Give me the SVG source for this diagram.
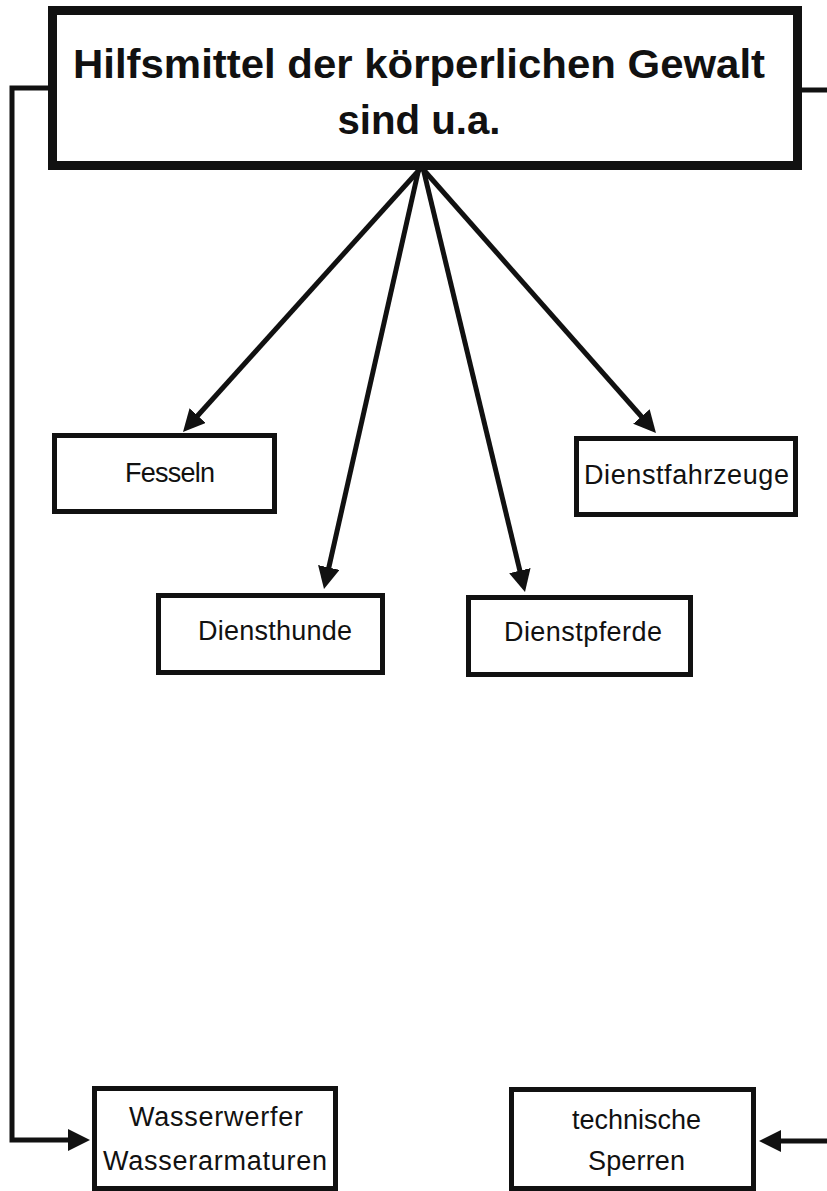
<svg xmlns="http://www.w3.org/2000/svg" width="827" height="1191" viewBox="0 0 827 1191">
  <defs>
    <style>
      .box { fill: #ffffff; stroke: #111111; stroke-width: 5; }
      .head { fill: #ffffff; stroke: #111111; stroke-width: 9; }
      .title { font-family: "Liberation Sans", Arial, sans-serif; font-weight: bold; font-size: 41px; fill: #111111; text-anchor: middle; }
      .label { font-family: "Liberation Sans", Arial, sans-serif; font-size: 27px; fill: #111111; text-anchor: middle; }
      .conn { fill: none; stroke: #111111; stroke-width: 5; stroke-linecap: butt; stroke-linejoin: miter; }
    </style>
    <marker id="arrow" markerUnits="userSpaceOnUse" viewBox="0 0 22 22" markerWidth="22" markerHeight="22" refX="16" refY="11" orient="auto">
      <path d="M0,0 L22,11 L0,22 z" fill="#111111"/>
    </marker>
  </defs>

  <rect width="827" height="1191" fill="#ffffff"/>

  <!-- connectors -->
  <g id="connectors">
    <line class="conn" x1="421" y1="168" x2="187" y2="427.5" marker-end="url(#arrow)"/>
    <line class="conn" x1="419" y1="168" x2="325.3" y2="583.1" marker-end="url(#arrow)"/>
    <line class="conn" x1="423" y1="168" x2="523.6" y2="586.2" marker-end="url(#arrow)"/>
    <line class="conn" x1="422" y1="168" x2="652" y2="428.5" marker-end="url(#arrow)"/>
    <path class="conn" d="M52,88 H12 V1140 H84" marker-end="url(#arrow)"/>
    <path class="conn" d="M797,90 H827"/>
    <path class="conn" d="M827,1141 H765" marker-end="url(#arrow)"/>
  </g>

  <!-- heading -->
  <g id="node-head">
    <rect class="head" x="52.5" y="10.5" width="745" height="155"/>
    <text class="title" x="419" y="78" textLength="692" lengthAdjust="spacingAndGlyphs">Hilfsmittel der körperlichen Gewalt</text>
    <text class="title" x="419" y="134" textLength="163" lengthAdjust="spacingAndGlyphs">sind u.a.</text>
  </g>

  <g id="node-fesseln">
    <rect class="box" x="54.5" y="435.5" width="220" height="76"/>
    <text class="label" x="170" y="482" textLength="90">Fesseln</text>
  </g>

  <g id="node-dienstfahrzeuge">
    <rect class="box" x="576.5" y="438.5" width="219" height="76"/>
    <text class="label" x="686.5" y="484" textLength="205">Dienstfahrzeuge</text>
  </g>

  <g id="node-diensthunde">
    <rect class="box" x="158.5" y="595.5" width="224" height="77"/>
    <text class="label" x="275" y="640" textLength="154">Diensthunde</text>
  </g>

  <g id="node-dienstpferde">
    <rect class="box" x="468.5" y="597.5" width="222" height="77"/>
    <text class="label" x="583" y="641" textLength="158">Dienstpferde</text>
  </g>

  <g id="node-wasserwerfer">
    <rect class="box" x="94.5" y="1088.5" width="241" height="100"/>
    <text class="label" x="216" y="1126" textLength="174">Wasserwerfer</text>
    <text class="label" x="215" y="1170" textLength="224">Wasserarmaturen</text>
  </g>

  <g id="node-sperren">
    <rect class="box" x="511.5" y="1089.5" width="242" height="99"/>
    <text class="label" x="636.5" y="1129" textLength="129">technische</text>
    <text class="label" x="636.5" y="1170" textLength="97">Sperren</text>
  </g>
</svg>
